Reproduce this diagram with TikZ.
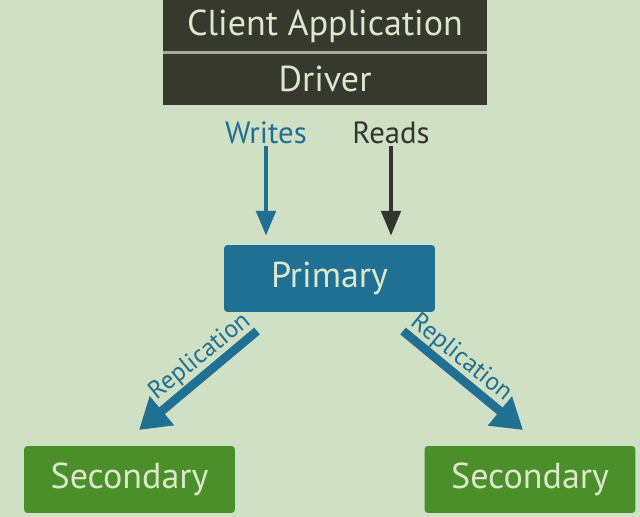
\documentclass[tikz,border=0pt]{standalone}
\usepackage{fontspec}
\setmainfont{PT Sans}
\usetikzlibrary{arrows.meta}
\definecolor{bggreen}{HTML}{CFE0C4}
\definecolor{darkbox}{HTML}{37392F}
\definecolor{bluebox}{HTML}{207094}
\definecolor{greenbox}{HTML}{4A8F2A}
\definecolor{boxtext}{HTML}{DCE8CC}
\definecolor{readcol}{HTML}{333530}
\definecolor{sepline}{HTML}{A4AA9C}
\tikzset{
    box/.style={rectangle, rounded corners=2pt, text=boxtext, inner sep=0pt,
        minimum width=4.22cm, minimum height=1.34cm, font=\fontsize{20.5}{24}\selectfont},
    clientbox/.style={box, fill=darkbox, rounded corners=0pt, minimum width=6.48cm, minimum height=1.05cm},
    primarybox/.style={box, fill=bluebox},
    secondarybox/.style={box, fill=greenbox},
    oplabel/.style={font=\fontsize{17.5}{20}\selectfont, inner sep=1pt},
    oparrow/.style={line width=2.8pt, -{Triangle[width=0.38cm,length=0.5cm]}},
    replabel/.style={font=\fontsize{14.5}{16}\selectfont, text=bluebox, inner sep=0pt},
    reparrow/.style={line width=5pt, bluebox, -{Triangle[width=0.72cm,length=0.6cm]}}
}
\begin{document}
\begin{tikzpicture}[x=0.02cm, y=-0.02cm]
    \fill[bggreen] (0,0) rectangle (640,517);
    \useasboundingbox (0,0) rectangle (640,517);
    \node[clientbox] (client) at (325,26) {Client Application};
    \node[clientbox] (driver) at (325,79) {Driver};
    \draw[sepline, line width=1.5pt] (client.south west) -- (client.south east);
    \node[oplabel, text=bluebox] (writes) at (266,133) {Writes};
    \node[oplabel, text=readcol] (reads) at (391,133) {Reads};
    \node[primarybox] (primary) at (329.5,278.5) {Primary};
    \draw[oparrow, bluebox, shorten >=5] (writes.south) -- (writes.south |- primary.north);
    \draw[oparrow, readcol, shorten >=5] (reads.south) -- (reads.south |- primary.north);
    \node[secondarybox] (secleft) at (129.5,479.5) {Secondary};
    \node[secondarybox] (secright) at (530,479.5) {Secondary};
    \coordinate (lstart) at (257,331);
    \coordinate (lend) at (139,430);
    \coordinate (rstart) at (403,331);
    \coordinate (rend) at (523,430);
    \draw[reparrow] (lstart) -- (lend);
    \draw[reparrow] (rstart) -- (rend);
    \node[replabel, rotate=39] (lrep) at (200,357) {Replication};
    \node[replabel, rotate=-39] (rrep) at (461,358) {Replication};
\end{tikzpicture}
\end{document}
